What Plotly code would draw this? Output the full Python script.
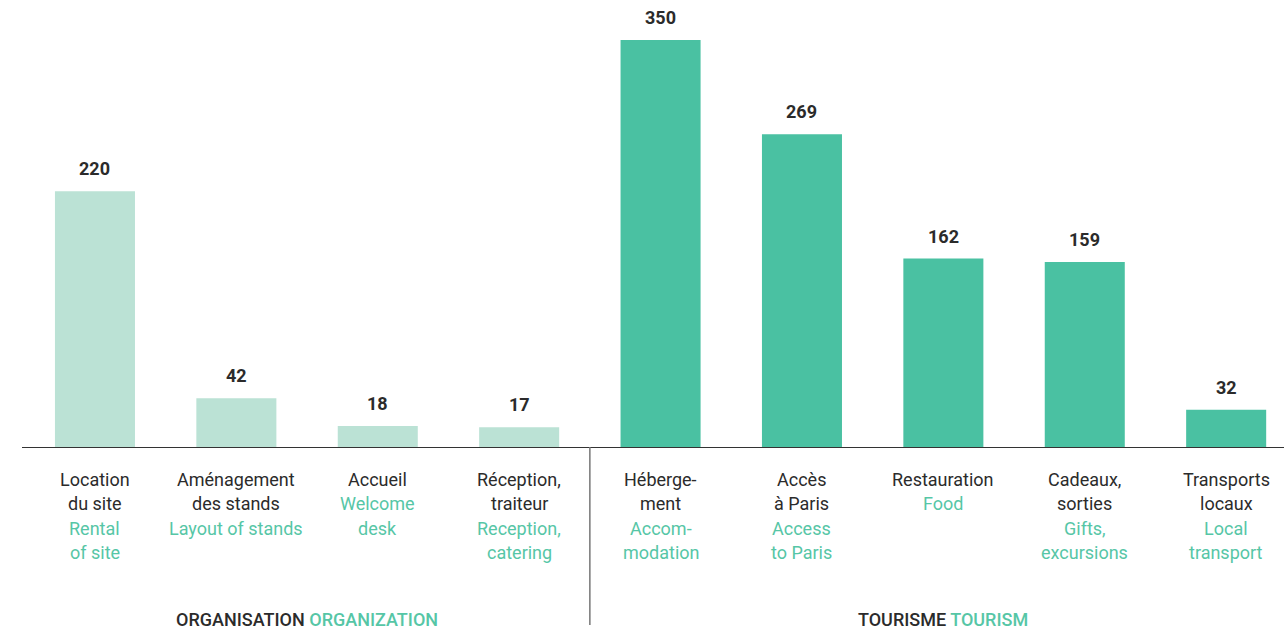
import plotly.graph_objects as go

categories_fr = [["Location", "du site"], ["Aménagement", "des stands"], ["Accueil"],
                 ["Réception,", "traiteur"], ["Héberge-", "ment"], ["Accès", "à Paris"],
                 ["Restauration"], ["Cadeaux,", "sorties"], ["Transports", "locaux"]]
categories_en = [["Rental", "of site"], ["Layout of stands"], ["Welcome", "desk"],
                 ["Reception,", "catering"], ["Accom-", "modation"], ["Access", "to Paris"],
                 ["Food"], ["Gifts,", "excursions"], ["Local", "transport"]]
values = [220, 42, 18, 17, 350, 269, 162, 159, 32]
groups = ["organisation", "organisation", "organisation", "organisation",
          "tourisme", "tourisme", "tourisme", "tourisme", "tourisme"]
group_labels_fr = ["ORGANISATION", "TOURISME"]
group_labels_en = ["ORGANIZATION", "TOURISM"]

LIGHT = "#bbe2d5"
DARK = "#4ac1a2"
GREEN_TXT = "#56c6a6"
TXT = "#2b2b2b"
FONT = "Roboto"

xs = list(range(len(values)))
colors = [LIGHT if g == "organisation" else DARK for g in groups]

fig = go.Figure()
fig.add_trace(go.Bar(x=xs, y=values, marker=dict(color=colors, line=dict(width=0)),
                     width=0.566, hoverinfo="skip"))

annotations = []
for x, v in zip(xs, values):
    annotations.append(dict(x=x, y=v, xref="x", yref="y", text=f"<b>{v}</b>", showarrow=False,
                            yanchor="bottom", yshift=10,
                            font=dict(family=FONT, size=18, color=TXT)))

line_offsets = [32, 56.5, 81, 105.5]
for x, fr, en in zip(xs, categories_fr, categories_en):
    lines = [(t, TXT) for t in fr] + [(t, GREEN_TXT) for t in en]
    for i, (t, c) in enumerate(lines):
        annotations.append(dict(x=x, y=0, xref="x", yref="paper", text=t, showarrow=False,
                                yanchor="middle", yshift=-line_offsets[i],
                                font=dict(family=FONT, size=18, color=c)))

group_x = [1.5, 6.0]
for gx, fr, en in zip(group_x, group_labels_fr, group_labels_en):
    annotations.append(dict(x=gx, y=0, xref="x", yref="paper",
                            text=f"<span style='color:{TXT}'>{fr}</span> <span style='color:{GREEN_TXT}'>{en}</span>",
                            showarrow=False, yanchor="middle", yshift=-172,
                            font=dict(family=FONT, size=18, color=TXT, weight=500)))

fig.update_layout(
    width=1284, height=632,
    margin=dict(l=22, r=0, t=0, b=185),
    paper_bgcolor="white", plot_bgcolor="white",
    showlegend=False,
    annotations=annotations,
    shapes=[dict(type="line", xref="x", yref="paper", x0=3.5, x1=3.5, y0=0, y1=-0.398,
                 line=dict(color="#777777", width=1.5))],
    xaxis=dict(range=[-0.516, 8.409], showticklabels=False, showgrid=False, zeroline=False,
               showline=True, linecolor="#333333", linewidth=1, ticks="", fixedrange=True),
    yaxis=dict(range=[0, 384.4], visible=False, showgrid=False, zeroline=False, fixedrange=True),
)

fig.write_html("out.html", config={"displayModeBar": False},
               post_script="document.body.style.margin='0';document.body.style.overflow='hidden';")
